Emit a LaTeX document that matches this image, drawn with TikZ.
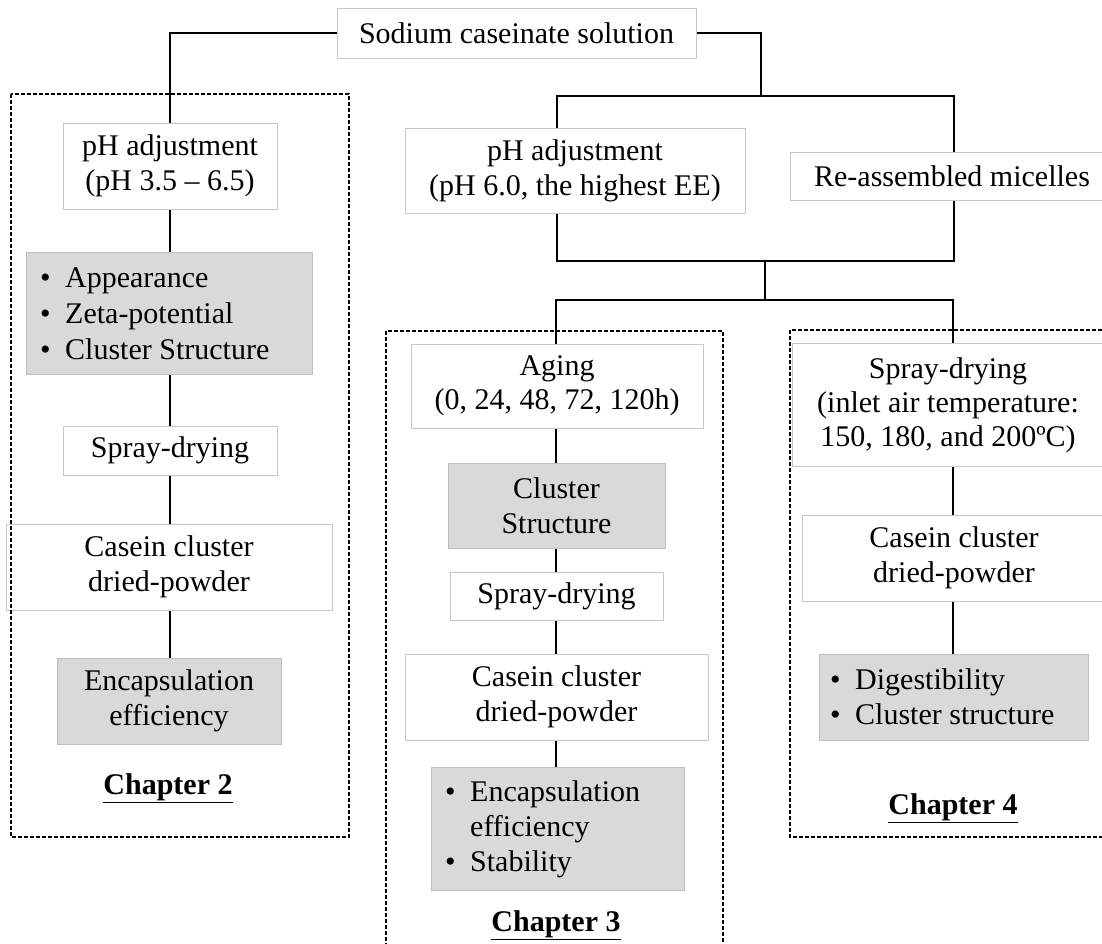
\documentclass[tikz,border=0pt]{standalone}
\usepackage{fontspec}
\setmainfont{Liberation Serif}
\definecolor{boxgray}{RGB}{200,200,200}
\definecolor{gfill}{RGB}{217,217,217}
\definecolor{gborder}{RGB}{190,190,190}
\newcommand{\bul}{\makebox[25pt][l]{\textbullet}}
\pgfdeclarelayer{background}
\pgfsetlayers{background,main}
\begin{document}
\begin{tikzpicture}[x=1pt,y=-1pt,
  base/.style={font=\fontsize{30}{35}\selectfont, align=center, inner sep=0pt},
  wbox/.style={base, draw=boxgray, fill=white, line width=0.9pt},
  gbox/.style={base, draw=gborder, fill=gfill, line width=0.9pt},
  btext/.style={base, align=left, anchor=west},
  conn/.style={line width=2.8pt, line join=miter},
  dbox/.style={line width=1.3pt, dash pattern=on 4pt off 2pt},
  chap/.style={base, font=\fontsize{30}{35}\selectfont\bfseries}]
\useasboundingbox (0,0) rectangle (1102,943);
\clip (0,0) rectangle (1102,943);

% junction coordinates
\coordinate (a1) at (761,96);
\coordinate (b1) at (557,96);
\coordinate (b2) at (954,96);
\coordinate (c1) at (557,261);
\coordinate (c2) at (954,261);
\coordinate (m1) at (765,261);
\coordinate (m2) at (765,300);
\coordinate (d1) at (556,300);
\coordinate (d2) at (953,300);

% nodes
\node[wbox, minimum width=359pt, minimum height=50pt] (top) at (516.5,33) {Sodium caseinate solution};
\node[wbox, minimum width=214pt, minimum height=86pt] (ph1) at (170,166) {pH adjustment\\(pH 3.5 -- 6.5)};
\node[gbox, minimum width=286pt, minimum height=122pt] (g1) at (169,313) {};
\node[wbox, minimum width=214pt, minimum height=49pt] (sd1) at (170,450.5) {Spray-drying};
\node[wbox, minimum width=326pt, minimum height=86pt] (cc1) at (169,567) {Casein cluster\\dried-powder};
\node[gbox, minimum width=224pt, minimum height=86pt] (enc1) at (169,701) {Encapsulation\\efficiency};

\node[wbox, minimum width=340pt, minimum height=85pt] (ph2) at (575,170.5) {pH adjustment\\(pH 6.0, the highest EE)};
\node[wbox, minimum width=324pt, minimum height=48pt] (re) at (952,176) {Re-assembled micelles};

\node[wbox, minimum width=292pt, minimum height=84pt, font=\fontsize{30}{34}\selectfont] (ag) at (557,386) {Aging\\(0, 24, 48, 72, 120h)};
\node[gbox, minimum width=217pt, minimum height=85pt] (cs) at (556.5,505.5) {Cluster\\Structure};
\node[wbox, minimum width=213pt, minimum height=48pt] (sd2) at (556.5,596) {Spray-drying};
\node[wbox, minimum width=303pt, minimum height=86pt] (cc2) at (556.5,697) {Casein cluster\\dried-powder};
\node[gbox, minimum width=253pt, minimum height=123pt] (enc2) at (557.5,828.5) {};

\node[wbox, minimum width=312pt, minimum height=123pt, font=\fontsize{30}{34}\selectfont] (sd3) at (948,405) {Spray-drying\\(inlet air temperature:\\150, 180, and 200ºC)};
\node[wbox, minimum width=304pt, minimum height=86pt] (cc3) at (954,558) {Casein cluster\\dried-powder};
\node[gbox, minimum width=269pt, minimum height=86pt] (g3) at (953.5,697) {};

% bullet texts
\node[btext, font=\fontsize{30}{36}\selectfont] (g1t) at (40,314) {\bul Appearance\\\bul Zeta-potential\\\bul Cluster Structure};
\node[btext] (enc2t) at (445,829) {\bul Encapsulation\\\hspace*{25pt}efficiency\\\bul Stability};
\node[btext] (g3t) at (830,697) {\bul Digestibility\\\bul Cluster structure};

% chapter labels
\node[chap] (ch2) at (168,788) {\underline{Chapter 2}};
\node[chap] (ch3) at (556,925) {\underline{Chapter 3}};
\node[chap] (ch4) at (953,808) {\underline{Chapter 4}};

% connectors behind the boxes
\begin{pgfonlayer}{background}
\draw[conn] (top.west) -| (ph1.north);
\draw[conn] (top.east) -| (a1);
\draw[conn] (b1 |- ph2.north) -- (b1) -- (b2) -- (b2 |- re.north);
\draw[conn] (c1 |- ph2.south) -- (c1) -- (c2) -- (c2 |- re.south);
\draw[conn] (m1) -- (m2);
\draw[conn] (d1 |- ag.north) -- (d1) -- (d2) -- (d2 |- sd3.north);
\draw[conn] (ph1.south) -- (ph1.south |- g1.north);
\draw[conn] (ph1.south |- g1.south) -- (ph1.south |- sd1.north);
\draw[conn] (sd1.south) -- (sd1.south |- cc1.north);
\draw[conn] (sd1.south |- cc1.south) -- (sd1.south |- enc1.north);
\draw[conn] (d1 |- ag.south) -- (d1 |- cs.north);
\draw[conn] (d1 |- cs.south) -- (d1 |- sd2.north);
\draw[conn] (d1 |- sd2.south) -- (d1 |- cc2.north);
\draw[conn] (d1 |- cc2.south) -- (d1 |- enc2.north);
\draw[conn] (d2 |- sd3.south) -- (d2 |- cc3.north);
\draw[conn] (d2 |- cc3.south) -- (d2 |- g3.north);
\end{pgfonlayer}

% dashed chapter frames
\draw[dbox] (11,94) rectangle (349,837);
\draw[dbox] (386,331) rectangle (723,960);
\draw[dbox] (790,330) rectangle (1120,837);
\end{tikzpicture}
\end{document}
